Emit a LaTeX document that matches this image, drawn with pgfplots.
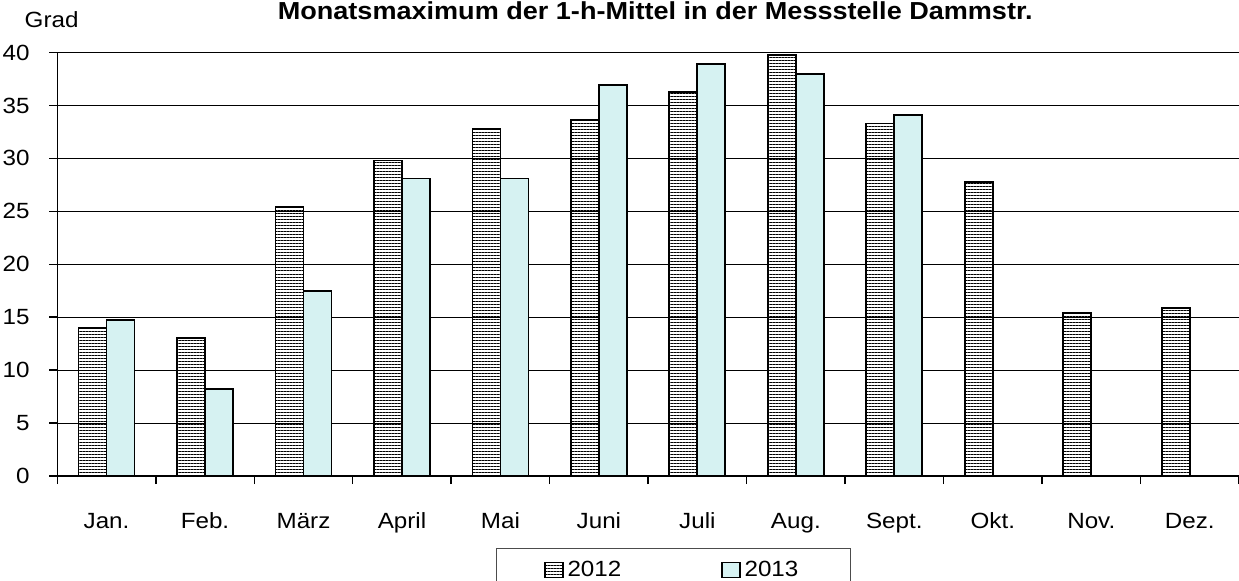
\documentclass[border=0pt]{standalone}
\usepackage{pgfplots}
\pgfplotsset{compat=1.18}
\usetikzlibrary{patterns.meta}
\usepackage{fontspec}
\setmainfont{Liberation Sans}[FakeStretch=1.1]
\definecolor{lightcy}{RGB}{214,242,242}
\begin{document}
\begin{tikzpicture}
\fontsize{11}{13}\selectfont
\useasboundingbox (-28.65pt,-52pt) rectangle (590.85pt,238pt);
\begin{axis}[
  at={(0pt,0pt)}, anchor=south west,
  scale only axis,
  clip=false,
  width=590.85pt, height=211.75pt,
  xmin=-0.5, xmax=11.5,
  ymin=0, ymax=40,
  ytick={0,5,...,40},
  xtick={0,...,11},
  xticklabels={Jan.,Feb.,März,April,Mai,Juni,Juli,Aug.,Sept.,Okt.,Nov.,Dez.},
  minor xtick={-0.5,0.5,...,11.5},
  major x tick style={draw=none},
  minor tick length=4pt,
  major tick length=4pt,
  tick align=outside,
  tick style={black, line width=0.75pt},
  axis x line*=bottom,
  axis y line*=left,
  axis line style={black, line width=0.75pt},
  ymajorgrids,
  grid style={black, line width=0.55pt},
  /pgf/number format/assume math mode=true,
  ticklabel style={font=\fontsize{11}{13}\selectfont},
  xticklabel style={anchor=base, yshift=-22pt},
  yticklabel style={anchor=east, xshift=-6pt},
  ybar=0pt,
  bar width=14pt,
  legend columns=2,
  legend style={
    at={(0.371,-0.1707)}, anchor=north west,
    draw=black!70, line width=0.6pt,
    inner xsep=24pt, inner ysep=4pt,
    font=\fontsize{11}{13}\selectfont,
    /tikz/every even column/.append style={column sep=48pt},
  },
  legend image code/.code={\draw[#1, line width=0.6pt] (0pt,-3.75pt) rectangle (9pt,3.75pt);},
]
\addplot[draw=black, line width=0.9pt, pattern={Lines[angle=0,distance=1.5pt,line width=0.5pt]}, pattern color=black, bar shift=-7pt]
  coordinates {(0,14.0) (1,13.0) (2,25.4) (3,29.8) (4,32.8) (5,33.6) (6,36.3) (7,39.8) (8,33.3) (9,27.8) (10,15.4) (11,15.9)};
\addlegendentry{2012}
\addplot[draw=black, line width=0.9pt, fill=lightcy, bar shift=7pt]
  coordinates {(0,14.7) (1,8.2) (2,17.5) (3,28.1) (4,28.1) (5,36.9) (6,38.9) (7,38.0) (8,34.1)};
\addlegendentry{2013}
\node[anchor=base west, font=\fontsize{11}{13}\selectfont] at ([xshift=-20.15pt, yshift=12.75pt]rel axis cs:0,1) {Grad};
\node[anchor=base, inner sep=0pt, font=\bfseries\fontsize{12.3}{14}\selectfont] at ([yshift=16.75pt]rel axis cs:0.506,1) {Monatsmaximum der 1-h-Mittel in der Messstelle Dammstr.};
\end{axis}
\end{tikzpicture}
\end{document}
